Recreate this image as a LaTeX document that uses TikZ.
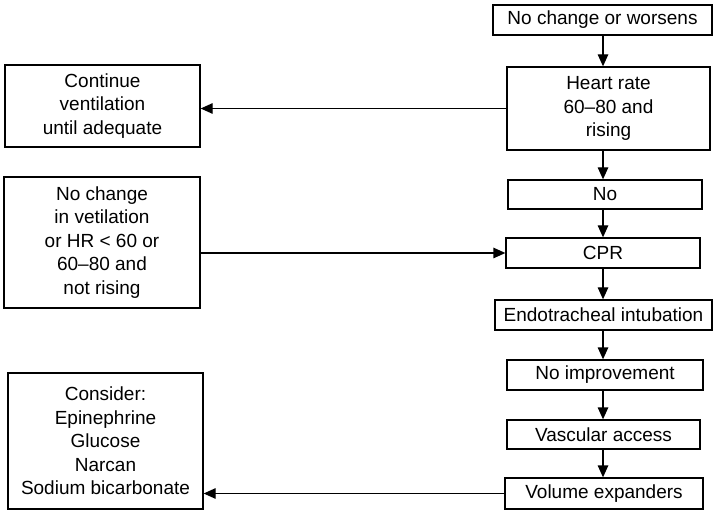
\documentclass[tikz,border=0pt]{standalone}
\usepackage{fontspec}
\setmainfont{Liberation Sans}
\usetikzlibrary{arrows.meta,positioning}
\begin{document}
\begin{tikzpicture}[x=1pt,y=-1pt,line width=1.3pt,
  every node/.style={font=\fontsize{19}{23.5}\selectfont,align=center},
  box/.style={draw,inner sep=0pt},
  arr/.style={-{Triangle[length=12pt,width=10.5pt]}}]
\useasboundingbox (0,0) rectangle (714,510);
\coordinate (spine) at (603,0);
% right column
\node[box,minimum width=219pt,minimum height=30pt] (worse) at (602.5,20) {No change or worsens};
\node[box,minimum width=203pt,minimum height=83pt] (hr) at (608.5,108.5) {Heart rate\\60--80 and\\rising};
\node[box,minimum width=194pt,minimum height=29pt] (no) at (605,194.5) {No};
\node[box,minimum width=194pt,minimum height=30pt] (cpr) at (603,253) {CPR};
\node[box,minimum width=217pt,minimum height=30pt] (eti) at (603.5,315) {Endotracheal intubation};
\node[box,minimum width=196pt,minimum height=30pt] (noimp) at (605,375) {No improvement};
\node[box,minimum width=193pt,minimum height=29pt] (vasc) at (603.5,434.5) {Vascular access};
\node[box,minimum width=198pt,minimum height=31pt] (vol) at (604,493.5) {Volume expanders};
% left column
\node[box,minimum width=195pt,minimum height=82pt] (cont) at (102.5,106) {Continue\\ventilation\\until adequate};
\node[box,minimum width=196pt,minimum height=131pt] (nochg) at (102,242.5) {No change\\in vetilation\\or HR < 60 or\\60--80 and\\not rising};
\node[box,minimum width=195pt,minimum height=136pt] (consider) at (105.5,441) {Consider:\\Epinephrine\\Glucose\\Narcan\\Sodium bicarbonate};
% arrows
\foreach \a/\b in {worse/hr,hr/no,no/cpr,cpr/eti,eti/noimp,noimp/vasc,vasc/vol}
  \draw[arr] (\a.south -| spine) -- (\b.north -| spine);
\draw[arr] (hr.west) -- (hr.west -| cont.east);
\draw[arr] (nochg.east |- cpr.west) -- (cpr.west);
\draw[arr] (vol.west) -- (vol.west -| consider.east);
\end{tikzpicture}
\end{document}
